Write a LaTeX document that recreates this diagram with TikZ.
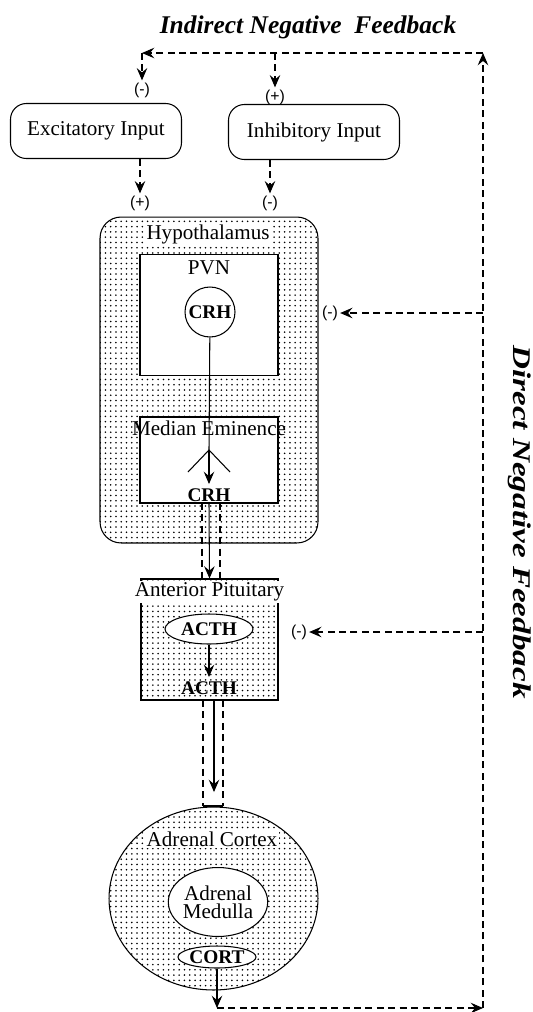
\documentclass[tikz,border=0pt]{standalone}
\usepackage{fontspec}
\setmainfont{Liberation Serif}
\setsansfont{Liberation Sans}
\usetikzlibrary{arrows.meta,patterns,shapes.geometric}

\begin{document}
\begin{tikzpicture}[x=0.02cm, y=-0.02cm, >={Stealth[length=7pt,width=6pt,inset=2.5pt]},
    line width=0.6pt, font=\fontsize{12}{13}\selectfont,
    fb/.style={dash pattern=on 4pt off 2.5pt},
    sign/.style={font=\sffamily\fontsize{9}{10}\selectfont, inner sep=1pt},
    inbox/.style={rectangle, rounded corners=9pt, draw, minimum width=3.42cm, minimum height=1.1cm},
    dotsfill/.style={pattern=dots, pattern color=black},
    hormone/.style={font=\bfseries\fontsize{11}{12}\selectfont, inner sep=1pt},
    heading/.style={font=\bfseries\itshape\fontsize{14.5}{16}\selectfont}]
    \useasboundingbox (0,0) rectangle (533,1012);

    % feedback titles
    \node (indirect) [heading] at (308,27) {Indirect Negative\ \ Feedback};
    \node (direct) [heading, rotate=-90] at (520,522) {\scalebox{1.3}[1]{Direct Negative Feedback}};

    % inputs
    \node (excit) [inbox] at (96,131) {Excitatory Input};
    \node (inhib) [inbox] at (314,132) {Inhibitory Input};
    \node (exminus) [sign] at (142,90) {(-)};
    \node (inplus) [sign] at (275,97) {(+)};
    \node (explus) [sign] at (140,203) {(+)};
    \node (inminus) [sign] at (270,203) {(-)};

    % hypothalamus
    \node (hypo) [rectangle, rounded corners=12pt, draw, dotsfill, minimum width=4.36cm, minimum height=6.52cm] at (209,380) {};
    \node (hypolabel) [fill=white, inner sep=1pt] at (208,234) {Hypothalamus};
    \node (pvn) [rectangle, draw, fill=white, minimum width=2.76cm, minimum height=2.42cm] at (209,315) {};
    \node (pvnlabel) at (209,268) {PVN};
    \node (crh) [circle, draw, fill=white, hormone, minimum size=1cm] at (210,312) {CRH};
    \node (me) [rectangle, draw, fill=white, minimum width=2.76cm, minimum height=1.72cm] at (209,460) {};
    \node (melabel) [inner sep=1pt] at (209,428) {Median Eminence};
    \node (crhout) [hormone] at (209,495) {CRH};
    \node (hypominus) [sign] at (330,313) {(-)};
    \coordinate (fork) at (209,450);
    \coordinate (forkl) at (188,472);
    \coordinate (forkr) at (230,472);

    % anterior pituitary
    \node (ap) [rectangle, draw, dotsfill, minimum width=2.74cm, minimum height=2.42cm] at (209.5,639.5) {};
    \node (aplabel) [fill=white, inner sep=1pt, minimum width=2.66cm] at (209.5,592) {Anterior Pituitary};
    \node (acth) [ellipse, draw, fill=white, hormone, minimum width=1.76cm, minimum height=0.6cm] at (209,629) {ACTH};
    \node (acthout) [hormone] at (209,688) {ACTH};
    \node (apminus) [sign] at (299,632) {(-)};

    % adrenal
    \node (cortex) [ellipse, draw, dotsfill, minimum width=4.18cm, minimum height=3.66cm] at (213.5,898.5) {};
    \node (cortexlabel) [fill=white, inner sep=1pt] at (212,839) {Adrenal Cortex};
    \node (medulla) [ellipse, draw, fill=white, minimum width=1.74cm, minimum height=1.38cm, align=center, inner sep=0pt,
        font=\fontsize{12}{10.5}\selectfont] at (218,902) {Adrenal\\Medulla};
    \node (cort) [ellipse, draw, fill=white, hormone, minimum width=1.24cm, minimum height=0.44cm, inner sep=0pt] at (217,957) {CORT};

    % loop corners
    \coordinate (tl) at (142,53);
    \coordinate (tm) at (275,53);
    \coordinate (tr) at (483,53);
    \coordinate (bl) at (217,1008);
    \coordinate (br) at (483,1008);

    % indirect feedback
    \draw [fb, ->] (tl) -- (exminus);
    \draw [fb, ->] (tm) -- (inplus);
    \draw [fb, ->] (excit.south -| explus) -- (explus);
    \draw [fb, ->] (inhib.south -| inminus) -- (inminus);

    % CRH release
    \draw (crh) -- (fork);
    \draw (forkl) -- (fork) -- (forkr);
    \draw [->] (fork) -- (209,484);
    \draw [fb] (202,503) -- (202,579);
    \draw [fb] (220,503) -- (220,579);
    \draw [->] (me.south) -- (ap.north);

    % ACTH release
    \draw [->] (acth) -- (209,677);
    \draw [fb] (203,700) -- (203,806);
    \draw [fb] (223,700) -- (223,806);
    \draw (203,806) -- (223,806);
    \draw [->] (214,700) -- (214,792);

    % cortisol loop
    \draw [->] (cort) -- (bl);
    \draw [fb, ->] (bl) -- (br);
    \draw [fb, ->] (br) -- (tr);
    \draw [fb, ->] (tr) -- (tl);
    \draw [fb, ->] (tr |- hypominus) -- (hypominus);
    \draw [fb, ->] (tr |- apminus) -- (apminus);
\end{tikzpicture}
\end{document}
